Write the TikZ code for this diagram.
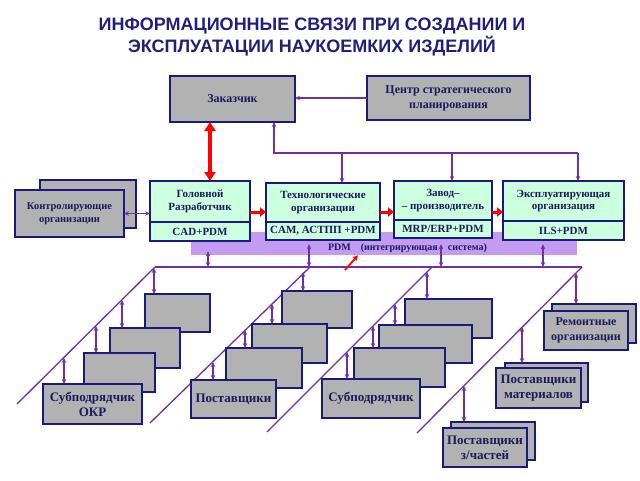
\documentclass[tikz,border=0pt]{standalone}
\usepackage{fontspec}
\setmainfont{Liberation Serif}
\newfontfamily\titlefont{Liberation Sans}
\usetikzlibrary{arrows.meta, positioning, calc}

\definecolor{navy}{HTML}{1A1A7E}
\definecolor{ink}{HTML}{1A1A5E}
\definecolor{titleblue}{HTML}{20207A}
\definecolor{boxgray}{HTML}{B2B2B2}
\definecolor{mint}{HTML}{CCFFDD}
\definecolor{linkviolet}{HTML}{7030A0}
\definecolor{pdmviolet}{HTML}{C39BF0}

\tikzset{
  box/.style={draw=navy, line width=1.5pt, align=center, text=ink, inner sep=1pt, outer sep=0pt},
  graybox/.style={box, fill=boxgray, font=\bfseries\fontsize{13}{15}\selectfont},
  greenbox/.style={box, fill=mint, font=\bfseries\fontsize{11}{12.5}\selectfont},
  vline/.style={draw=linkviolet, line width=1.3pt},
  vboth/.style={vline, {Stealth[length=5pt,width=4.5pt]}-{Stealth[length=5pt,width=4.5pt]}},
  vto/.style={vline, -{Stealth[length=5pt,width=4.5pt]}},
  vfrom/.style={vline, {Stealth[length=5pt,width=4.5pt]}-},
  redbig/.style={draw=red, line width=4pt, {Triangle[length=9pt,width=11pt]}-{Triangle[length=9pt,width=11pt]}},
  redto/.style={draw=red, line width=3pt, -{Triangle[length=6pt,width=9pt]}},
  redsmall/.style={draw=red, line width=1.8pt, -{Triangle[length=5pt,width=5pt]}},
  headline/.style={font=\titlefont\bfseries\fontsize{18}{20}\selectfont, text=titleblue, inner sep=0pt}
}

\begin{document}
\begin{tikzpicture}[x=1pt, y=-1pt]
  \useasboundingbox[fill=white] (0,0) rectangle (640,480);

  % заголовок
  \node[headline] (t1) at (312,26) {ИНФОРМАЦИОННЫЕ СВЯЗИ ПРИ СОЗДАНИИ И};
  \node[headline] (t2) at (312,46) {ЭКСПЛУАТАЦИИ НАУКОЕМКИХ ИЗДЕЛИЙ};

  % верхний уровень
  \node[graybox, font=\bfseries\fontsize{12}{14}\selectfont, minimum width=125pt, minimum height=46pt] (zak) at (232.5,99) {Заказчик};
  \node[graybox, font=\bfseries\fontsize{12}{15}\selectfont, minimum width=163pt, minimum height=44pt] (plan) at (448.5,98) {Центр стратегического\\планирования};
  \draw[vto] (plan.west) -- (plan.west -| zak.east);

  % PDM
  \node[fill=pdmviolet, minimum width=386pt, minimum height=23pt, inner sep=0pt] (pdm) at (384,243.5) {};
  \node[font=\bfseries\fontsize{10}{12}\selectfont, text=ink, inner sep=0pt] (pdmtxt) at (407.5,248) {PDM\hspace{10pt}(интегрирующая\hspace{10pt}система)};

  % средний ряд
  \node[greenbox, minimum width=100pt, minimum height=41pt] (head) at (200,201.5) {Головной\\Разработчик};
  \node[greenbox, minimum width=100pt, minimum height=19pt, below=0pt of head] (headsys) {CAD+PDM};
  \node[greenbox, minimum width=114pt, minimum height=39pt] (tech) at (323,202.5) {Технологические\\организации};
  \node[greenbox, minimum width=114pt, minimum height=18pt, below=0pt of tech] (techsys) {CAM, АСТПП +PDM};
  \node[greenbox, minimum width=98pt, minimum height=39pt] (plant) at (443,200.5) {Завод–\\– производитель};
  \node[greenbox, minimum width=98pt, minimum height=18pt, below=0pt of plant] (plantsys) {MRP/ERP+PDM};
  \node[greenbox, minimum width=121pt, minimum height=40pt] (oper) at (563.5,201) {Эксплуатирующая\\организация};
  \node[greenbox, minimum width=121pt, minimum height=19pt, below=0pt of oper] (opersys) {ILS+PDM};

  \node[graybox, minimum width=96pt, minimum height=48pt] (ctrlb) at (88,204) {};
  \node[graybox, font=\bfseries\fontsize{10.5}{13}\selectfont, minimum width=109pt, minimum height=47pt] (ctrl) at (69.5,213.5) {Контролирующие\\организации};
  \draw[vboth] (ctrl.east) -- (ctrl.east -| head.west);

  \draw[redbig] ([xshift=-22.5pt]zak.south) -- ([xshift=10pt]head.north);
  \draw[redto] ([yshift=-10.5pt]head.east) -- ([yshift=-10.5pt]head.east -| tech.west);
  \draw[redto] ([yshift=-9.5pt]tech.east) -- ([yshift=-9.5pt]tech.east -| plant.west);
  \draw[redto] ([yshift=-11.5pt]plant.east) -- ([yshift=-11.5pt]plant.east -| oper.west);

  % шина от заказчика
  \coordinate (busR) at (578,153);
  \draw[vfrom] ([xshift=41.5pt]zak.south) |- (busR);
  \draw[vto] ([xshift=19pt]tech.north |- busR) -- ([xshift=19pt]tech.north);
  \draw[vto] ([xshift=9pt]plant.north |- busR) -- ([xshift=9pt]plant.north);
  \draw[vto] (busR) -- (busR |- oper.north);

  % нижняя линия и диагонали
  \coordinate (lineL) at (155,267);
  \coordinate (lineR) at (582,267);
  \coordinate (d2t) at (310,267);
  \coordinate (d3t) at (432,267);
  \coordinate (d1b) at (17,404);
  \coordinate (d2b) at (150,423);
  \coordinate (d3b) at (267,432);
  \coordinate (d4b) at (417,433);
  \draw[vline] (lineL) -- (lineR);
  \draw[vline] (lineL) -- (d1b);
  \draw[vline] (d2t) -- (d2b);
  \draw[vline] (d3t) -- (d3b);
  \draw[vline] (lineR) -- (d4b);

  \draw[vboth] ([xshift=-176pt, yshift=4pt]pdm.south) -- ([xshift=-176pt]pdm.south |- lineL);
  \draw[vboth] ([xshift=-75pt, yshift=11pt]pdm.south) -- ([xshift=-75pt]pdm.south |- lineL);
  \draw[vboth] ([xshift=57pt, yshift=11pt]pdm.south) -- ([xshift=57pt]pdm.south |- lineL);
  \draw[vboth] ([xshift=159pt, yshift=11pt]pdm.south) -- ([xshift=159pt]pdm.south |- lineL);
  \coordinate (rq) at (345,270);
  \draw[redsmall] (rq) -- ([xshift=-26pt]pdm.south);

  % субподрядчики ОКР
  \node[graybox, minimum width=65pt, minimum height=38pt] (s1) at (177.5,313) {};
  \node[graybox, minimum width=70pt, minimum height=40pt] (s2) at (145,348) {};
  \node[graybox, minimum width=71pt, minimum height=39pt] (s3) at (119.5,372.5) {};
  \node[graybox, minimum width=99pt, minimum height=40pt] (s4) at (92.5,404) {Субподрядчик\\ОКР};
  \draw[vboth] ([xshift=-23.5pt]s1.north) -- +(0,-26);
  \draw[vboth] ([xshift=-23pt]s2.north) -- +(0,-28);
  \draw[vboth] ([xshift=-23.5pt]s3.north) -- +(0,-27);
  \draw[vboth] ([xshift=-28.5pt]s4.north) -- +(0,-26);

  % поставщики
  \node[graybox, minimum width=70pt, minimum height=37pt] (p1) at (317,309.5) {};
  \node[graybox, minimum width=75pt, minimum height=39pt] (p2) at (289.5,343.5) {};
  \node[graybox, minimum width=76pt, minimum height=40pt] (p3) at (264,368) {};
  \node[graybox, minimum width=85pt, minimum height=38pt] (p4) at (233.5,399) {Поставщики};
  \draw[vboth] ([xshift=-14pt]p1.north) -- +(0,-19);
  \draw[vboth] ([xshift=-17.5pt]p2.north) -- +(0,-20);
  \draw[vboth] ([xshift=-19pt]p3.north) -- +(0,-18);
  \draw[vboth] ([xshift=-20.5pt]p4.north) -- +(0,-18);

  % субподрядчики
  \node[graybox, minimum width=87pt, minimum height=39pt] (q1) at (448.5,318.5) {};
  \node[graybox, minimum width=93pt, minimum height=38pt] (q2) at (425.5,344) {};
  \node[graybox, minimum width=91pt, minimum height=39pt] (q3) at (399.5,367.5) {};
  \node[graybox, minimum width=98pt, minimum height=39pt] (q4) at (371,398.5) {Субподрядчик};
  \draw[vboth] ([xshift=-21.5pt]q1.north) -- +(0,-27);
  \draw[vboth] ([xshift=-30.5pt]q2.north) -- +(0,-21);
  \draw[vboth] ([xshift=-26.5pt]q3.north) -- +(0,-22);
  \draw[vboth] ([xshift=-24pt]q4.north) -- +(0,-27);

  % ремонт и поставки
  \node[graybox, minimum width=84pt, minimum height=39pt] (rb) at (594,323.5) {};
  \node[graybox, font=\bfseries\fontsize{12}{15}\selectfont, minimum width=84pt, minimum height=39pt] (r) at (586,330.5) {Ремонтные\\организации};
  \node[graybox, minimum width=83pt, minimum height=39pt] (mb) at (546.5,382.5) {};
  \node[graybox, minimum width=85pt, minimum height=40pt] (m) at (538.5,388) {Поставщики\\материалов};
  \node[graybox, minimum width=84pt, minimum height=38pt] (zb) at (493,441) {};
  \node[graybox, minimum width=84pt, minimum height=39pt] (z) at (485,447.5) {Поставщики\\з/частей};
  \draw[vboth] ([xshift=-18pt]rb.north) -- +(0,-31);
  \draw[vboth] ([xshift=-24.5pt]mb.north) -- +(0,-36);
  \draw[vboth] ([xshift=-29pt]zb.north) -- +(0,-36);
\end{tikzpicture}
\end{document}
